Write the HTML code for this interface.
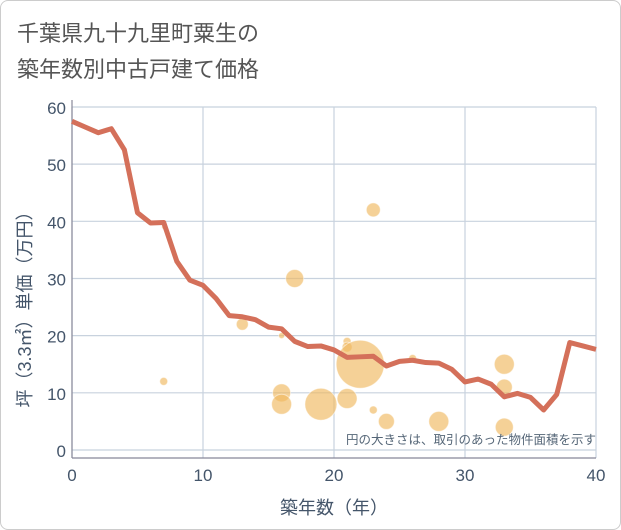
<!DOCTYPE html>
<html><head><meta charset="utf-8"><style>
body{margin:0;background:#fff}
#wrap{width:619px;height:528px;border:1px solid #ccc;border-radius:8px;position:relative;overflow:hidden;font-family:"Liberation Sans","Noto Sans CJK JP",sans-serif}
.t{position:absolute;left:16px;font-size:22px;color:#555}
</style></head><body>
<div id="wrap">
<div class="t" style="top:15px">千葉県九十九里町粟生の</div>
<div class="t" style="top:51px">築年数別中古戸建て価格</div>
<svg id="c" width="621" height="530" style="position:absolute;left:-1px;top:-1px"></svg>
</div>
<script>
const years=[0,1,2,3,4,5,6,7,8,9,10,11,12,13,14,15,16,17,18,19,20,21,22,23,24,25,26,27,28,29,30,31,32,33,34,35,36,37,38,39,40];
const avgPrice=[57.5,56.5,55.5,56.2,52.5,41.5,39.7,39.8,33,29.7,28.8,26.5,23.5,23.3,22.8,21.5,21.2,19,18.1,18.2,17.5,16.2,16.3,16.4,14.7,15.5,15.7,15.3,15.2,14.1,11.9,12.4,11.5,9.3,9.9,9.2,7.0,9.7,18.8,18.2,17.6];
const bubX=[7,7,13,16,16,16,17,19,21,21,21,22,23,23,24,26,28,33,33,33];
const bubY=[12,39,22,20,10,8,30,8,9,19,18,15,42,7,5,16,5,15,11,4];
const bubArea=[16,4,36,9,81,100,81,256,100,16,25,576,49,16,64,16,100,100,64,81];
const xTicks=[0,10,20,30,40];
const yTicks=[0,10,20,30,40,50,60];
const NS='http://www.w3.org/2000/svg',svg=document.getElementById('c');
const X=v=>72+v*13.1, Y=v=>450-v*5.717;
function mk(t,a,txt){const e=document.createElementNS(NS,t);for(const k in a)e.setAttribute(k,a[k]);if(txt!=null)e.textContent=txt;svg.appendChild(e);return e;}
for(const t of yTicks){const g=mk('line',{x1:72,x2:596,y1:Y(t),y2:Y(t),stroke:'#c8d2de','stroke-width':1.2});


const l=mk('text',{x:66,y:Y(t)+7,'text-anchor':'end','font-size':17,fill:'#44556a'},t);

}
for(const t of xTicks){const g=mk('line',{x1:X(t),x2:X(t),y1:107,y2:458,stroke:'#c8d2de','stroke-width':1.2});


const l=mk('text',{x:X(t),y:481,'text-anchor':'middle','font-size':17,fill:'#44556a'},t);

}
const ax=mk('line',{x1:72,x2:72,y1:100,y2:458,stroke:'#889',"stroke-width":1.2});


const bx=mk('line',{x1:72,x2:596,y1:458,y2:458,stroke:'#889',"stroke-width":1.2});


bubX.forEach((x,i)=>{const c=mk('circle',{cx:X(x),cy:Y(bubY[i]),r:Math.sqrt(bubArea[i]),fill:'rgba(240,185,95,0.65)',stroke:'rgba(255,255,255,0.5)'});

});
const p=mk('polyline',{points:years.map((y,i)=>X(y)+','+Y(avgPrice[i])).join(' '),fill:'none',stroke:'#d4705a','stroke-width':5,'stroke-linejoin':'round'});


const n=mk('text',{x:596,y:444,'text-anchor':'end','font-size':12.5,fill:'#556677'},'円の大きさは、取引のあった物件面積を示す');


const xt=mk('text',{x:334,y:514,'text-anchor':'middle','font-size':18,fill:'#44556a'},'築年数（年）');


const yt=mk('text',{x:0,y:0,'text-anchor':'middle','font-size':18,fill:'#44556a',transform:'translate(31,305) rotate(-90)'},'坪（3.3㎡）単価（万円）');


</script>
</body></html>
